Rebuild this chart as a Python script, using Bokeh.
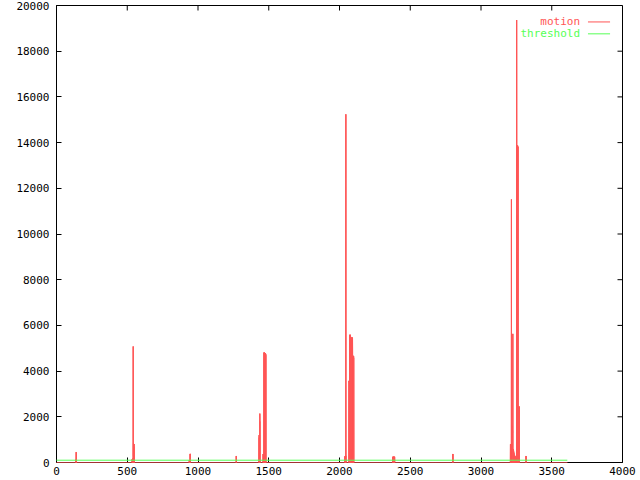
import numpy as np
from bokeh.plotting import figure
from bokeh.models import Range1d, FixedTicker, LinearAxis, Label
from bokeh.embed import file_html
from bokeh.resources import INLINE

# ---- data ----
last_frame = 3610
# motion bursts: first frame of each burst and the per-frame values in it (0 elsewhere)
burst_start = [137, 534, 938, 1270, 1431, 1460, 2038, 2067, 2376, 2801, 3208, 3318]
burst_values = [
    [120, 150, 460, 420, 150],
    [120, 150, 150, 140, 150, 160, 150, 200, 5080, 300, 820, 810, 800, 780, 810, 700, 150],
    [100, 110, 110, 0, 0, 0, 370, 380],
    [285, 280],
    [1100, 1200, 1200, 1150, 1200, 0, 2140, 1800],
    [370, 360, 370, 350, 370, 360, 4800, 4820, 4810, 4780, 4800, 4760,
     4770, 4750, 4770, 4760, 4740, 4770, 4760, 4750, 4700],
    [250, 280, 285, 280, 270, 260, 280, 15240, 300],
    [3575, 3500, 3560, 3540, 3575, 5590, 5500, 5560, 5580, 5520, 5590, 5540,
     650, 600, 640, 620, 630, 650, 600,
     5475, 5400, 5450, 5420, 5475, 5380, 5440,
     4670, 4600, 4650, 4620, 4670, 4640, 4600, 4650, 4580],
    [240, 250, 245, 250, 240, 250, 245, 230, 250, 240, 250, 245, 240, 250, 230],
    [370, 373],
    [800, 780, 810, 790, 800, 760, 780, 11513, 1600, 1580, 1600, 1550, 1590,
     1500, 1450, 1400, 1300, 5630, 600, 590, 580, 560, 540, 500, 450, 420,
     380, 285, 280, 285, 270, 280, 260, 200, 150, 180, 200, 250, 220, 200, 250, 300,
     250, 200, 19364, 13880, 13850, 13800, 13880, 13700, 13850, 13800, 13860,
     13750, 13800, 2450, 2400, 2450, 2430, 2450, 2380, 2420, 2450, 2400],
    [285, 280],
]
threshold_frames = [0, last_frame]
threshold_values = [100, 100]

x_ticks = [0, 500, 1000, 1500, 2000, 2500, 3000, 3500, 4000]
y_ticks = [0, 2000, 4000, 6000, 8000, 10000, 12000, 14000, 16000, 18000, 20000]
series_names = ["motion", "threshold"]
series_colors = ["#ff5555", "#55ff55"]

X_MAX, Y_MAX = 4000, 20000

# full motion series (zero where nothing is drawn)
frames = np.arange(0, last_frame + 1)
values = np.zeros(len(frames))
for s, vals in zip(burst_start, burst_values):
    values[s:s + len(vals)] = vals
nz = values > 0
imp_x = frames[nz]
imp_y = values[nz]

FONT = "DejaVu Sans Mono"
FS = "11px"

W, H = 640, 480
BL, BR, BT, BB = 56, 18, 5, 18
frame_w = W - BL - BR
frame_h = H - BT - BB

p = figure(width=W, height=H, output_backend="svg", toolbar_location=None,
           x_range=Range1d(0, X_MAX), y_range=Range1d(0, Y_MAX),
           min_border_left=BL, min_border_right=BR, min_border_top=BT, min_border_bottom=BB,
           x_axis_location=None, y_axis_location=None)
p.grid.visible = False
p.outline_line_color = "black"
p.outline_line_width = 1
p.background_fill_color = "white"
p.border_fill_color = "white"

def style_axis(ax, standoff):
    ax.axis_line_color = "black"
    ax.major_tick_in = 5
    ax.major_tick_out = 0
    ax.minor_tick_line_color = None
    ax.major_tick_line_color = "black"
    ax.major_label_text_font = FONT
    ax.major_label_text_font_size = FS
    ax.major_label_text_color = "black"
    ax.major_label_standoff = standoff

xb = LinearAxis(ticker=FixedTicker(ticks=x_ticks))
style_axis(xb, 4)
p.add_layout(xb, "below")
yl = LinearAxis(ticker=FixedTicker(ticks=y_ticks))
style_axis(yl, 7)
p.add_layout(yl, "left")

# mirrored inward ticks on the top and right borders (5 px long)
tick_dy = 5 * Y_MAX / frame_h
tick_dx = 5 * X_MAX / frame_w
p.segment(x0=x_ticks, y0=[Y_MAX] * len(x_ticks), x1=x_ticks, y1=[Y_MAX - tick_dy] * len(x_ticks),
          line_color="black", line_width=1)
p.segment(x0=[X_MAX] * len(y_ticks), y0=y_ticks, x1=[X_MAX - tick_dx] * len(y_ticks), y1=y_ticks,
          line_color="black", line_width=1)

# motion: impulses plus line
r1 = p.segment(x0=imp_x, y0=np.zeros(len(imp_x)), x1=imp_x, y1=imp_y,
               line_color=series_colors[0], line_width=1)
r2 = p.line(frames, values, line_color=series_colors[0], line_width=1)
r3 = p.line(threshold_frames, threshold_values, line_color=series_colors[1], line_width=1)
for r in (r1, r2, r3):
    r.level = "overlay"

# key (gnuplot style: text then sample line), placed in top-right
key_text_x = X_MAX * 0.925
key_line_x0 = X_MAX * 0.939
key_line_x1 = X_MAX * 0.978
key_rows_y = [Y_MAX * 0.964, Y_MAX * 0.938]
for name, color, ky in zip(series_names, series_colors, key_rows_y):
    p.add_layout(Label(x=key_text_x, y=ky, text=name, text_color=color, text_font=FONT,
                       text_font_size=FS, text_align="right", text_baseline="middle"))
    kr = p.line([key_line_x0, key_line_x1], [ky, ky], line_color=color, line_width=1)
    kr.level = "overlay"

open("out.html", "w").write(file_html(p, INLINE))
